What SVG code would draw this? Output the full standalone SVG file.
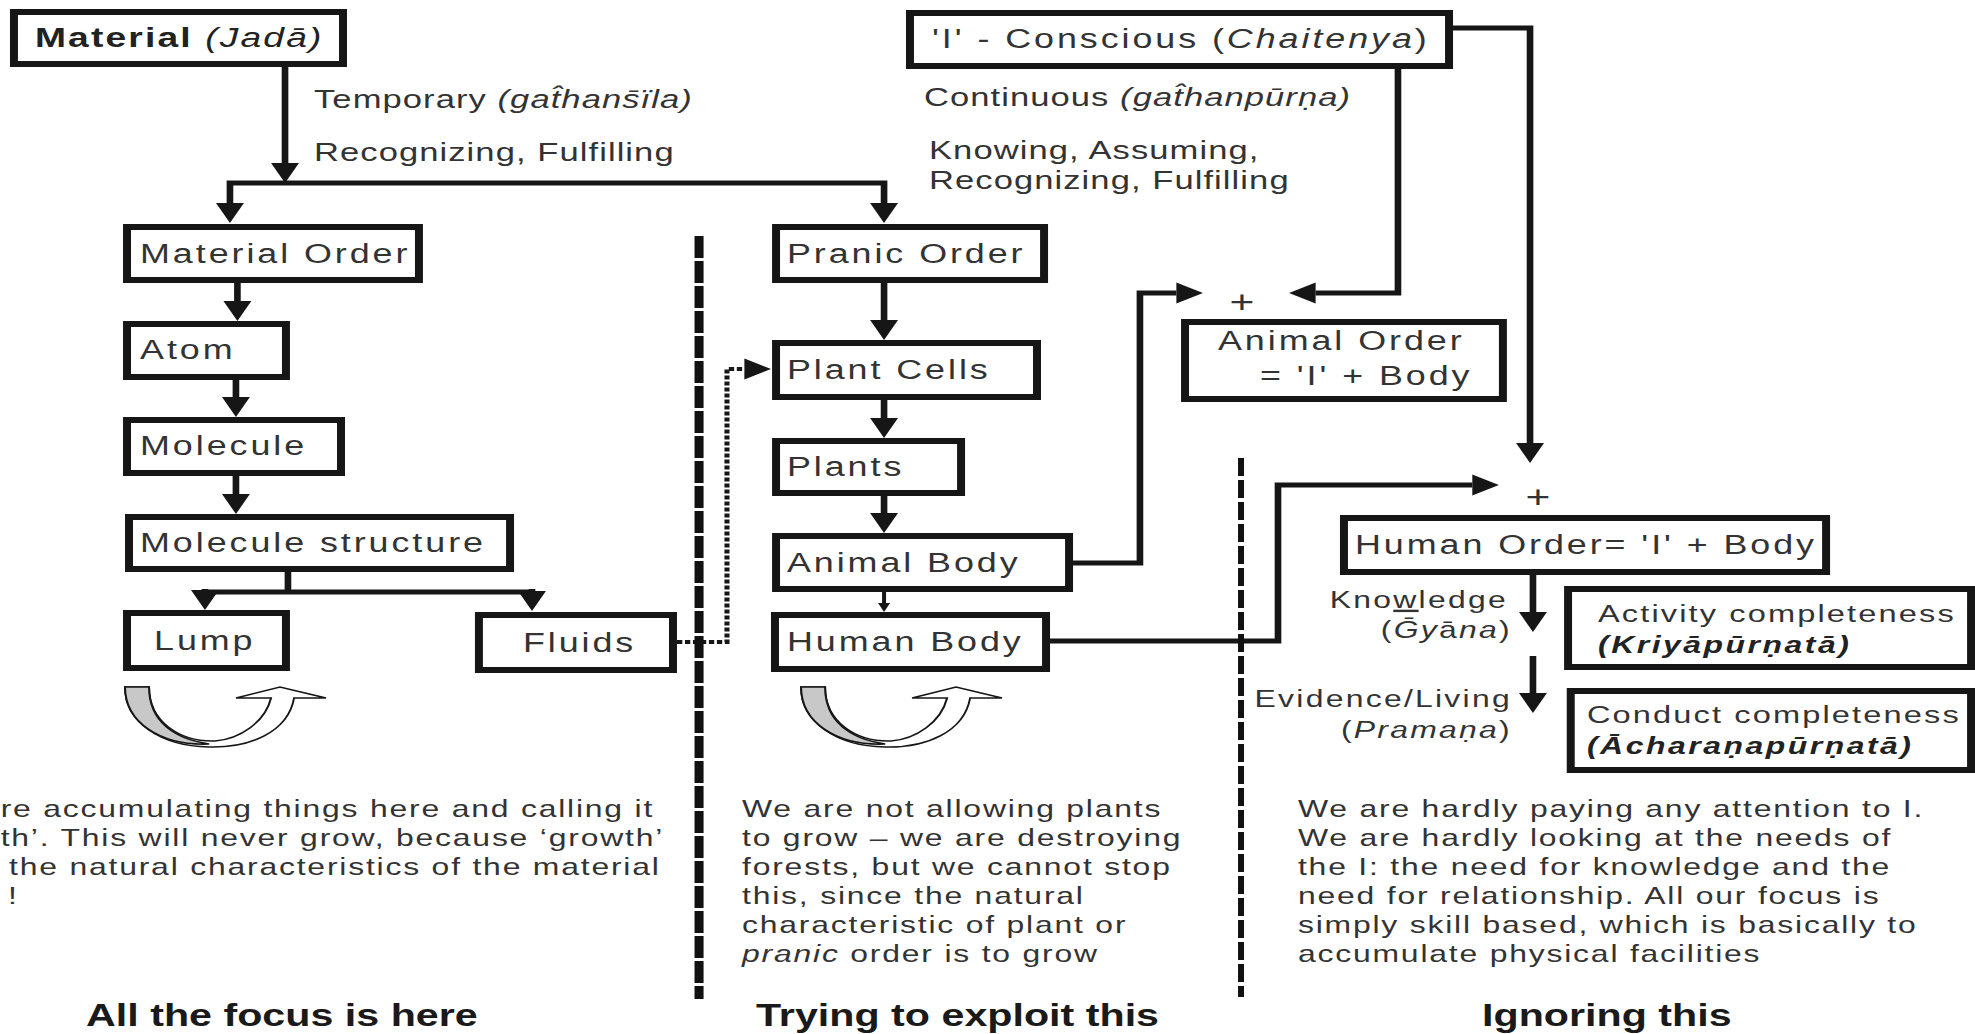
<svg xmlns="http://www.w3.org/2000/svg" width="1975" height="1034" viewBox="0 0 1975 1034">
<style>
.box{fill:#fff;stroke:#161616;stroke-width:6}
.ln{fill:none;stroke:#161616;stroke-width:5}
.thin{fill:none;stroke:#161616;stroke-width:3}
.dot{fill:none;stroke:#161616;stroke-width:3.8;stroke-dasharray:4 2}
.sepA{fill:none;stroke:#111;stroke-width:6.8;stroke-dasharray:22 3}
.sepB{fill:none;stroke:#111;stroke-width:4.5;stroke-dasharray:18 4}
text{font-family:"Liberation Sans",Arial,Helvetica,sans-serif;fill:#333}
.lbl{font-size:27px;letter-spacing:2.2px}
.ann{font-size:26px;letter-spacing:0.8px}
.plus{font-size:32px}
.side{font-size:24px;letter-spacing:1.7px}
.cmp{font-size:24.5px;letter-spacing:1.6px}
.cmpb{font-size:24px;letter-spacing:1.9px;font-weight:bold;font-style:italic;fill:#222}
.par{font-size:24px;letter-spacing:1.35px}
.ttl{font-size:31px;font-weight:bold;fill:#1a1a1a}
.head{font-size:28px;letter-spacing:1.6px;fill:#222}
.it{font-style:italic}
.b{font-weight:bold}
.ul{text-decoration:underline}
.cyc-w{fill:#fff;stroke:#161616;stroke-width:1.5}
.cyc-g{fill:#c8c8c8;stroke:#161616;stroke-width:1.5}
</style>
<defs>
<marker id="ah" markerUnits="userSpaceOnUse" viewBox="0 0 20 21" markerWidth="20" markerHeight="21" refX="0" refY="10.5" orient="auto-start-reverse" overflow="visible">
<path d="M0,0 L20,10.5 L0,21 Z" fill="#161616"/>
</marker>
<marker id="ahs" markerUnits="userSpaceOnUse" viewBox="0 0 9 9" markerWidth="9" markerHeight="9" refX="0" refY="4.5" orient="auto" overflow="visible">
<path d="M0,0 L9,4.5 L0,9 Z" fill="#161616"/>
</marker>
<g id="cycle">
<path class="cyc-w" d="M0,0 L18.05,0 C18.05,35 41.35,55 67.7,54 C86.5,52 105.3,35 109.8,11 L83.5,11 L116.5,0 L151.1,11 L127.1,11 C122.6,45 94,61 63.2,60 C26.3,59 0,35 0,0 Z"/>
<path class="cyc-g" d="M0,0 L18.05,0 C18.05,35 37.6,52 63.2,57 C26.3,59 0,35 0,0 Z"/>
</g>
</defs>
<rect x="0" y="0" width="1975" height="1034" fill="#fff"/>
<g transform="scale(1.33,1)">

<g id="connectors">
<path class="ln" d="M214.3,67 V163" marker-end="url(#ah)"/>
<path class="ln" d="M664.7,203 V183 H172.9 V203" marker-start="url(#ah)" marker-end="url(#ah)"/>
<path class="ln" d="M178.5,283 V301" marker-end="url(#ah)"/>
<path class="ln" d="M177.4,380 V397" marker-end="url(#ah)"/>
<path class="ln" d="M177.4,476 V494" marker-end="url(#ah)"/>
<path class="ln" d="M216.5,572 V592"/>
<path class="ln" d="M154.1,592 H400"/>
<path class="ln" d="M154.1,589 V590" marker-end="url(#ah)"/>
<path class="ln" d="M400,589 V591" marker-end="url(#ah)"/>
<path class="ln" d="M664.7,283 V320" marker-end="url(#ah)"/>
<path class="ln" d="M664.7,400 V418" marker-end="url(#ah)"/>
<path class="ln" d="M664.7,496 V513" marker-end="url(#ah)"/>
<path class="thin" d="M664.7,592 V603" marker-end="url(#ahs)"/>
<path class="ln" d="M806.8,563 H857.1 V293 H884.5" marker-end="url(#ah)"/>
<path class="ln" d="M1051.1,69 V293 H989.2" marker-end="url(#ah)"/>
<path class="ln" d="M1092.5,28 H1150.4 V443" marker-end="url(#ah)"/>
<path class="ln" d="M789.5,641 H960.9 V485 H1107" marker-end="url(#ah)"/>
<path class="ln" d="M1152.6,575 V612" marker-end="url(#ah)"/>
<path class="ln" d="M1152.6,656 V693" marker-end="url(#ah)"/>
<path class="dot" d="M509,642 H546.6 V369 H559.7" marker-end="url(#ah)"/>
<path class="sepA" d="M525.6,236 V999"/>
<path class="sepB" d="M933.1,458 V997"/>
</g>

<g id="material">
<rect class="box" x="10.5" y="12" width="247.4" height="52"/>
<text class="head" x="26.3" y="47"><tspan class="b">Material</tspan> <tspan class="it">(Jadā)</tspan></text>
</g>
<text id="lbl-temporary" class="ann" x="236.1" y="108">Temporary <tspan class="it">(gat̂hans̄ïla)</tspan></text>
<text id="lbl-recog1" class="ann" x="236.1" y="161">Recognizing, Fulfilling</text>

<g id="conscious">
<rect class="box" x="684.2" y="13" width="405.3" height="53"/>
<text class="lbl" x="700.8" y="48">'I' - Conscious (<tspan class="it">Chaitenya</tspan>)</text>
</g>
<text id="lbl-continuous" class="ann" x="694.7" y="106">Continuous <tspan class="it">(gat̂hanpūrṇa)</tspan></text>
<text id="lbl-knowing" class="ann" x="698.5" y="159">Knowing, Assuming,</text>
<text id="lbl-recog2" class="ann" x="698.5" y="189">Recognizing, Fulfilling</text>

<g id="material-order">
<rect class="box" x="95.5" y="227" width="219.5" height="53"/>
<text class="lbl" x="105.3" y="263">Material Order</text>
</g>
<g id="atom">
<rect class="box" x="95.5" y="324" width="119.5" height="53"/>
<text class="lbl" x="105.3" y="359">Atom</text>
</g>
<g id="molecule">
<rect class="box" x="95.5" y="420" width="160.9" height="53"/>
<text class="lbl" x="105.3" y="455">Molecule</text>
</g>
<g id="molecule-structure">
<rect class="box" x="97" y="517" width="286.5" height="52"/>
<text class="lbl" x="105.3" y="552">Molecule structure</text>
</g>
<g id="lump">
<rect class="box" x="95.5" y="613" width="119.5" height="55"/>
<text class="lbl" x="115.8" y="650">Lump</text>
</g>
<g id="fluids">
<rect class="box" x="360.1" y="615" width="145.9" height="55"/>
<text class="lbl" x="393.2" y="652">Fluids</text>
</g>
<use id="cycle-material" href="#cycle" x="94" y="687"/>

<g id="pranic-order">
<rect class="box" x="583.5" y="227" width="201.5" height="53"/>
<text class="lbl" x="591.7" y="263">Pranic Order</text>
</g>
<g id="plant-cells">
<rect class="box" x="583.5" y="343" width="196.2" height="54"/>
<text class="lbl" x="591.7" y="379">Plant Cells</text>
</g>
<g id="plants">
<rect class="box" x="583.5" y="441" width="139.1" height="52"/>
<text class="lbl" x="591.7" y="476">Plants</text>
</g>
<g id="animal-body">
<rect class="box" x="583.5" y="536" width="220.3" height="53"/>
<text class="lbl" x="591.7" y="572">Animal Body</text>
</g>
<g id="human-body">
<rect class="box" x="582.7" y="615" width="203.8" height="54"/>
<text class="lbl" x="591.7" y="651">Human Body</text>
</g>
<use id="cycle-pranic" href="#cycle" x="602.3" y="687"/>

<text id="plus-animal" class="plus" x="933.8" y="313" text-anchor="middle">+</text>
<g id="animal-order">
<rect class="box" x="891" y="322" width="239" height="77"/>
<text class="lbl" x="915.8" y="350">Animal Order</text>
<text class="lbl" x="947.4" y="385">= 'I' + Body</text>
</g>

<text id="plus-human" class="plus" x="1156.4" y="508" text-anchor="middle">+</text>
<g id="human-order">
<rect class="box" x="1010.5" y="518" width="362.5" height="54"/>
<text class="lbl" x="1018.8" y="554">Human Order= 'I' + Body</text>
</g>
<text id="lbl-knowledge" class="side" x="1133.8" y="608" text-anchor="end">Kno<tspan class="ul">w</tspan>ledge</text>
<text id="lbl-gyana" class="side" x="1136.8" y="638" text-anchor="end">(<tspan class="it">Ḡy</tspan>ā<tspan class="it">na</tspan>)</text>
<text id="lbl-evidence" class="side" x="1136.8" y="707" text-anchor="end">Evidence/Living</text>
<text id="lbl-pramana" class="side" x="1136.8" y="738" text-anchor="end">(<tspan class="it">Pramaṇa</tspan>)</text>

<g id="activity">
<rect class="box" x="1179" y="589" width="303" height="78"/>
<text class="cmp" x="1201.5" y="622">Activity completeness</text>
<text class="cmpb" x="1201.5" y="653">(Kriyāpūrṇatā)</text>
</g>
<g id="conduct">
<rect class="box" x="1181" y="691" width="301" height="79"/>
<text class="cmp" x="1193.2" y="723">Conduct completeness</text>
<text class="cmpb" x="1193.2" y="754">(Ācharaṇapūrṇatā)</text>
</g>

<g id="text-left">
<text class="par" x="0.5" y="817">re accumulating things here and calling it</text>
<text class="par" x="0.5" y="846">th’. This will never grow, because ‘growth’</text>
<text class="par" x="6.8" y="875">the natural characteristics of the material</text>
<text class="par" x="6" y="904">!</text>
<text class="ttl" x="64.7" y="1026">All the focus is here</text>
</g>
<g id="text-middle">
<text class="par" x="557.9" y="817">We are not allowing plants</text>
<text class="par" x="557.9" y="846">to grow – we are destroying</text>
<text class="par" x="557.9" y="875">forests, but we cannot stop</text>
<text class="par" x="557.9" y="904">this, since the natural</text>
<text class="par" x="557.9" y="933">characteristic of plant or</text>
<text class="par" x="557.9" y="962"><tspan class="it">pranic</tspan> order is to grow</text>
<text class="ttl" x="568.4" y="1026">Trying to exploit this</text>
</g>
<g id="text-right">
<text class="par" x="975.9" y="817">We are hardly paying any attention to I.</text>
<text class="par" x="975.9" y="846">We are hardly looking at the needs of</text>
<text class="par" x="975.9" y="875">the I: the need for knowledge and the</text>
<text class="par" x="975.9" y="904">need for relationship. All our focus is</text>
<text class="par" x="975.9" y="933">simply skill based, which is basically to</text>
<text class="par" x="975.9" y="962">accumulate physical facilities</text>
<text class="ttl" x="1114.3" y="1026">Ignoring this</text>
</g>
</g>
</svg>
